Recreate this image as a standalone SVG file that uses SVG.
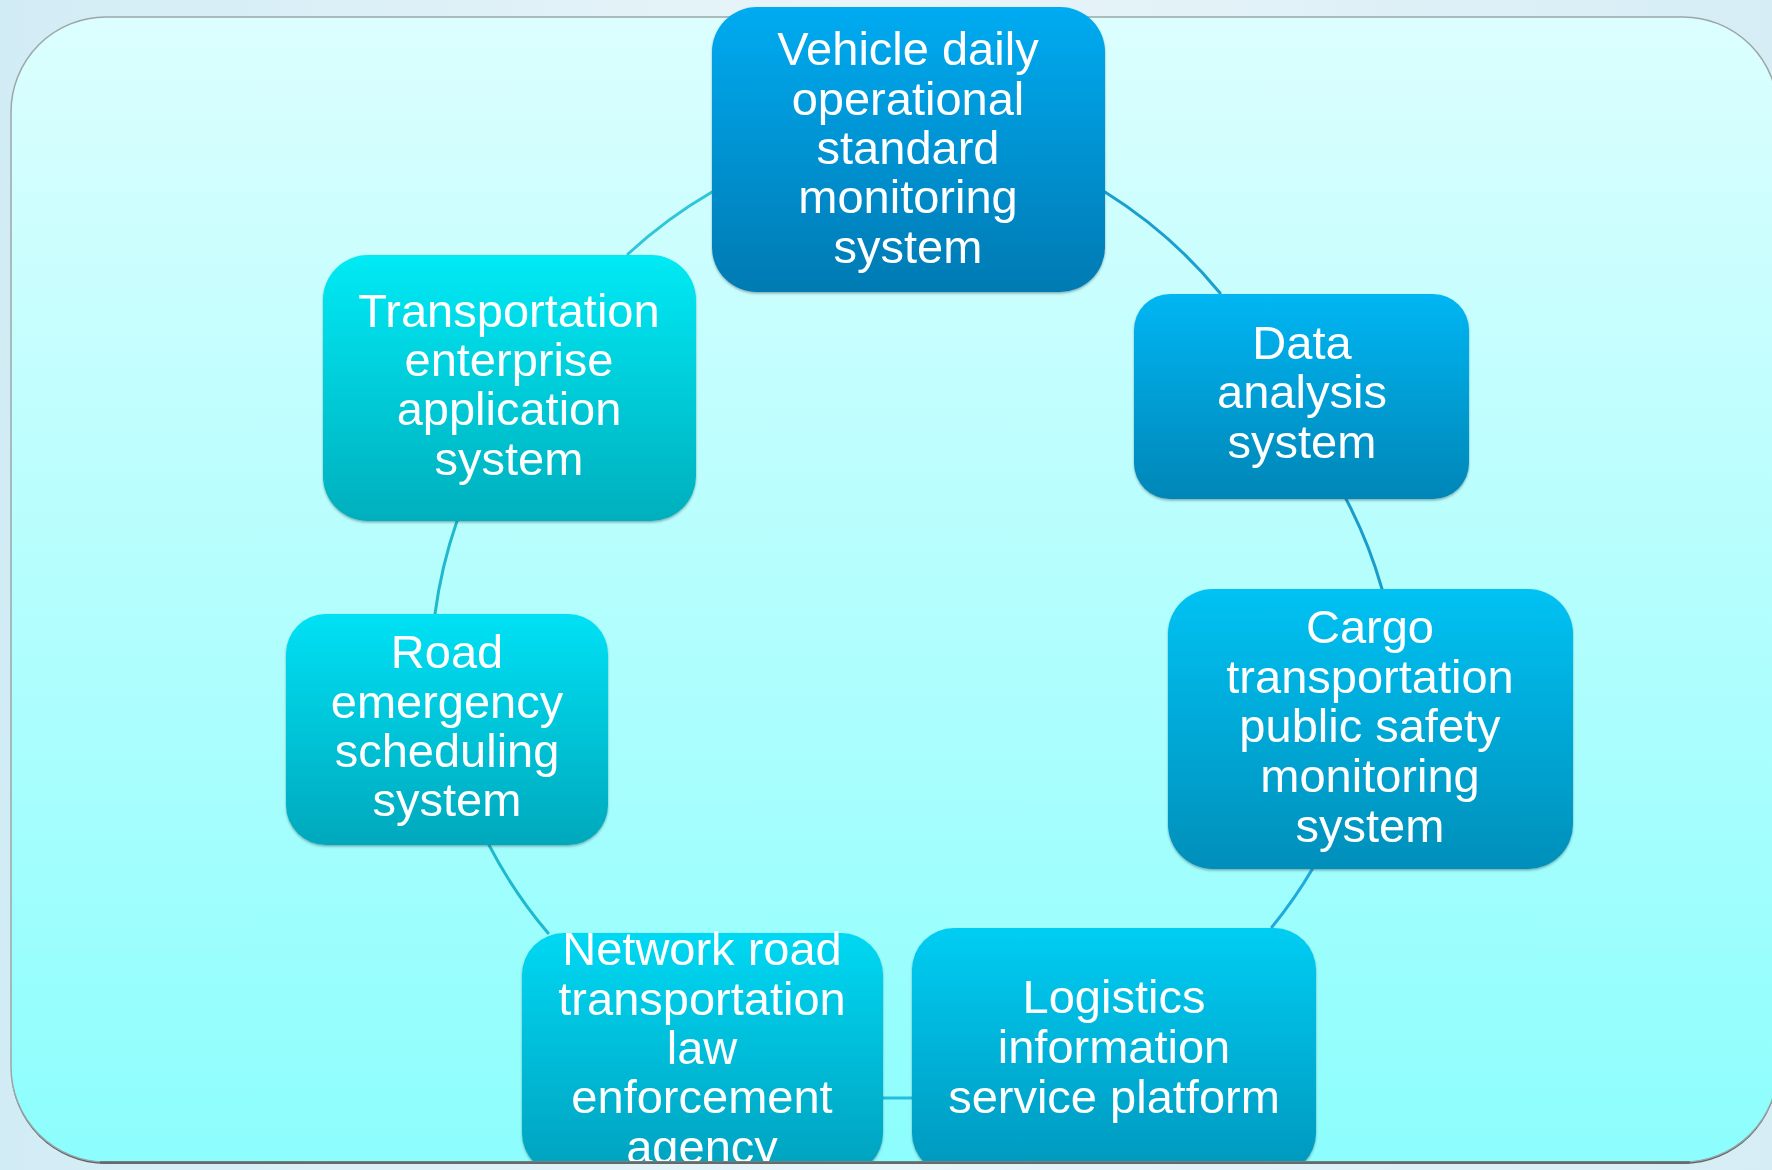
<svg xmlns="http://www.w3.org/2000/svg" width="1772" height="1170" viewBox="0 0 1772 1170">
<defs>
  <linearGradient id="bg" x1="0" y1="0" x2="1" y2="0">
    <stop offset="0" stop-color="#d2ecf5"/>
    <stop offset="0.5" stop-color="#e9f5f9"/>
    <stop offset="1" stop-color="#d6edf5"/>
  </linearGradient>
  <linearGradient id="panelFill" x1="0" y1="0" x2="0" y2="1">
    <stop offset="0" stop-color="#dcfefe"/>
    <stop offset="1" stop-color="#8cfefd"/>
  </linearGradient>
  <linearGradient id="gVeh" x1="0" y1="0" x2="0" y2="1">
    <stop offset="0" stop-color="#00abf1"/>
    <stop offset="1" stop-color="#007ab3"/>
  </linearGradient>
  <linearGradient id="gData" x1="0" y1="0" x2="0" y2="1">
    <stop offset="0" stop-color="#00b6f3"/>
    <stop offset="1" stop-color="#0086b7"/>
  </linearGradient>
  <linearGradient id="gCargo" x1="0" y1="0" x2="0" y2="1">
    <stop offset="0" stop-color="#00c2f3"/>
    <stop offset="1" stop-color="#008fba"/>
  </linearGradient>
  <linearGradient id="gLog" x1="0" y1="0" x2="0" y2="1">
    <stop offset="0" stop-color="#00cdf3"/>
    <stop offset="1" stop-color="#0097bd"/>
  </linearGradient>
  <linearGradient id="gNet" x1="0" y1="0" x2="0" y2="1">
    <stop offset="0" stop-color="#00d8f3"/>
    <stop offset="1" stop-color="#00a1be"/>
  </linearGradient>
  <linearGradient id="gRoad" x1="0" y1="0" x2="0" y2="1">
    <stop offset="0" stop-color="#00e1f5"/>
    <stop offset="1" stop-color="#00a8bc"/>
  </linearGradient>
  <linearGradient id="gTrans" x1="0" y1="0" x2="0" y2="1">
    <stop offset="0" stop-color="#00eaf5"/>
    <stop offset="1" stop-color="#00afbd"/>
  </linearGradient>
  <clipPath id="clipBottom">
    <rect x="0" y="0" width="1772" height="1161"/>
  </clipPath>
  <filter id="sh" x="-10%" y="-10%" width="120%" height="120%">
    <feDropShadow dx="0" dy="1.5" stdDeviation="1.2" flood-color="#2a4a55" flood-opacity="0.45"/>
  </filter>
</defs>
<style>
  .lbl{font-family:"Liberation Sans",Arial,sans-serif;font-size:47px;fill:#ffffff;text-anchor:middle}
  .conn{fill:none;stroke-width:3;stroke-linecap:round}
  .node{filter:url(#sh)}
</style>

<rect x="0" y="0" width="1772" height="1170" fill="url(#bg)"/>

<g id="panel">
  <rect x="11" y="19" width="1767" height="1145" rx="95" ry="95" fill="#5f6565"/>
  <rect x="11" y="17" width="1767" height="1145" rx="95" ry="95" fill="url(#panelFill)" stroke="#9aa6a8" stroke-width="1.5"/>
</g>

<g id="connectors">
  <path class="conn" stroke="#1b9fcf" d="M1105,192 A470,470 0 0 1 1220,293"/>
  <path class="conn" stroke="#1a9dc9" d="M1345,497 A470,470 0 0 1 1382,589"/>
  <path class="conn" stroke="#20aadb" d="M1313,868 A470,470 0 0 1 1272,927"/>
  <path class="conn" stroke="#22bde0" stroke-width="5" d="M912,1098 L883,1098"/>
  <path class="conn" stroke="#1fb8cc" d="M548,933 A470,470 0 0 1 489,845"/>
  <path class="conn" stroke="#1fb8cc" d="M435,614 A470,470 0 0 1 457,521"/>
  <path class="conn" stroke="#2fc6d8" d="M628,254 A470,470 0 0 1 712,192"/>
</g>

<g id="nodes" clip-path="url(#clipBottom)">
  <g id="node-vehicle" class="node">
    <rect x="712" y="7" width="393" height="285" rx="45" ry="45" fill="url(#gVeh)"/>
    <text class="lbl"><tspan x="908" y="65">Vehicle daily</tspan><tspan x="908" y="115">operational</tspan><tspan x="908" y="164">standard</tspan><tspan x="908" y="213">monitoring</tspan><tspan x="908" y="263">system</tspan></text>
  </g>
  <g id="node-data" class="node">
    <rect x="1134" y="294" width="335" height="205" rx="36" ry="36" fill="url(#gData)"/>
    <text class="lbl"><tspan x="1302" y="359">Data</tspan><tspan x="1302" y="408">analysis</tspan><tspan x="1302" y="458">system</tspan></text>
  </g>
  <g id="node-cargo" class="node">
    <rect x="1168" y="589" width="405" height="280" rx="45" ry="45" fill="url(#gCargo)"/>
    <text class="lbl"><tspan x="1370" y="643">Cargo</tspan><tspan x="1370" y="693">transportation</tspan><tspan x="1370" y="742">public safety</tspan><tspan x="1370" y="792">monitoring</tspan><tspan x="1370" y="842">system</tspan></text>
  </g>
  <g id="node-logistics" class="node">
    <rect x="912" y="928" width="404" height="247" rx="42" ry="42" fill="url(#gLog)"/>
    <text class="lbl"><tspan x="1114" y="1013">Logistics</tspan><tspan x="1114" y="1063">information</tspan><tspan x="1114" y="1113">service platform</tspan></text>
  </g>
  <g id="node-network" class="node">
    <rect x="522" y="933" width="361" height="242" rx="42" ry="42" fill="url(#gNet)"/>
    <text class="lbl"><tspan x="702" y="965">Network road</tspan><tspan x="702" y="1015">transportation</tspan><tspan x="702" y="1064">law</tspan><tspan x="702" y="1113">enforcement</tspan><tspan x="702" y="1163">agency</tspan></text>
  </g>
  <g id="node-road" class="node">
    <rect x="286" y="614" width="322" height="231" rx="40" ry="40" fill="url(#gRoad)"/>
    <text class="lbl"><tspan x="447" y="668">Road</tspan><tspan x="447" y="718">emergency</tspan><tspan x="447" y="767">scheduling</tspan><tspan x="447" y="816">system</tspan></text>
  </g>
  <g id="node-transportation" class="node">
    <rect x="323" y="255" width="373" height="266" rx="45" ry="45" fill="url(#gTrans)"/>
    <text class="lbl"><tspan x="509" y="327">Transportation</tspan><tspan x="509" y="376">enterprise</tspan><tspan x="509" y="425">application</tspan><tspan x="509" y="475">system</tspan></text>
  </g>
</g>

<line x1="100" y1="1162.5" x2="1690" y2="1162.5" stroke="#666b6b" stroke-width="2.5"/>
</svg>
